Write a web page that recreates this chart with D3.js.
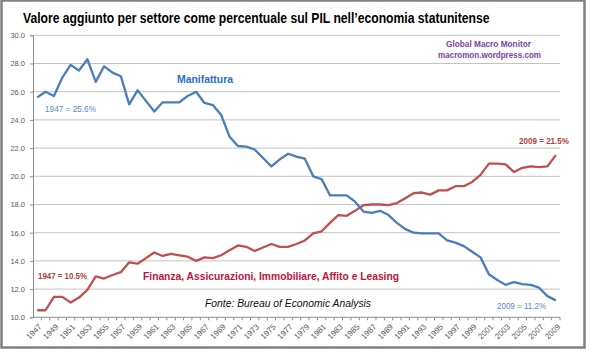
<!DOCTYPE html>
<html lang="it">
<head>
<meta charset="UTF-8">
<title>Valore aggiunto per settore</title>
<script src="https://d3js.org/d3.v7.min.js"></script>
<style>
    body { margin: 0; background: #fff; }
    svg { display: block; }
</style>
</head>
<body>
<script>
    // anni 1947-2009
    var years = [1947,1948,1949,1950,1951,1952,1953,1954,1955,1956,1957,1958,1959,1960,
        1961,1962,1963,1964,1965,1966,1967,1968,1969,1970,1971,1972,1973,1974,1975,1976,
        1977,1978,1979,1980,1981,1982,1983,1984,1985,1986,1987,1988,1989,1990,1991,1992,
        1993,1994,1995,1996,1997,1998,1999,2000,2001,2002,2003,2004,2005,2006,2007,2008,2009];

    var manifattura = [25.6,26.0,25.7,27.0,27.9,27.5,28.3,26.7,27.8,27.35,27.1,25.1,26.1,25.35,
        24.6,25.25,25.25,25.25,25.7,26.0,25.2,25.05,24.35,22.8,22.15,22.1,21.9,21.3,20.7,21.2,
        21.6,21.4,21.25,20.0,19.8,18.65,18.65,18.65,18.2,17.5,17.4,17.55,17.25,16.7,16.25,16.0,
        15.95,15.95,15.95,15.45,15.3,15.05,14.65,14.25,13.05,12.65,12.3,12.5,12.35,12.3,12.1,11.5,11.2];

    var finanza = [10.5,10.5,11.45,11.45,11.05,11.4,11.95,12.9,12.75,13.0,13.2,13.9,13.8,14.2,
        14.6,14.35,14.5,14.4,14.3,14.0,14.25,14.2,14.4,14.75,15.1,15.0,14.7,14.95,15.2,15.0,
        15.0,15.2,15.45,15.95,16.1,16.7,17.25,17.2,17.55,17.95,18.0,18.0,17.95,18.1,18.45,18.8,
        18.85,18.7,19.0,19.0,19.3,19.3,19.6,20.1,20.9,20.9,20.85,20.3,20.6,20.7,20.65,20.7,21.5];

    var yTicks = [10,12,14,16,18,20,22,24,26,28,30];
    var xLabels = years.filter(function (d, i) { return i % 2 === 0; });

    var width = 590, height = 353;
    var svg = d3.select("body").append("svg")
        .attr("width", width)
        .attr("height", height);

    // cornice
    svg.append("rect")
        .attr("x", 1.5).attr("y", 0.5)
        .attr("width", 583).attr("height", 347)
        .attr("fill", "#fff")
        .attr("stroke", "#808080")
        .attr("stroke-width", 2.5);

    var x = d3.scaleBand().domain(years).range([33, 560]).padding(0);
    var y = d3.scaleLinear().domain([10, 30]).range([317.3, 35.3]);
    var cx = function (d) { return x(d) + x.bandwidth() / 2; };

    // griglia
    svg.append("g").selectAll("line")
        .data(yTicks.slice(1))
        .enter().append("line")
        .attr("x1", 33).attr("x2", 560)
        .attr("y1", function (d) { return y(d); })
        .attr("y2", function (d) { return y(d); })
        .attr("stroke", "#c3c3c3")
        .attr("stroke-width", 1);

    // asse y
    var yAxis = d3.axisLeft(y).tickValues(yTicks).tickSize(3).tickFormat(d3.format(".1f"));
    var gy = svg.append("g").attr("transform", "translate(33,0)").call(yAxis);
    gy.select(".domain").attr("stroke", "#8c8c8c");
    gy.selectAll(".tick line").attr("stroke", "#8c8c8c");
    gy.selectAll("text")
        .attr("x", -8)
        .style("font-family", "'Liberation Sans', Arial, sans-serif")
        .style("font-size", "7.5px")
        .attr("fill", "#595959");

    // asse x
    var gx = svg.append("g").attr("transform", "translate(0," + y(10) + ")");
    gx.append("line")
        .attr("x1", 33).attr("x2", 560)
        .attr("stroke", "#8c8c8c");
    gx.selectAll(".tk")
        .data(years)
        .enter().append("line")
        .attr("class", "tk")
        .attr("x1", function (d) { return x(d) + x.bandwidth(); })
        .attr("x2", function (d) { return x(d) + x.bandwidth(); })
        .attr("y1", 0).attr("y2", 3)
        .attr("stroke", "#8c8c8c");
    gx.selectAll("text")
        .data(xLabels)
        .enter().append("text")
        .attr("transform", function (d) { return "translate(" + (cx(d) + 3) + ",8) rotate(-45)"; })
        .attr("text-anchor", "end")
        .attr("dy", "0.35em")
        .style("font-family", "'Liberation Sans', Arial, sans-serif")
        .style("font-size", "8px")
        .attr("fill", "#595959")
        .text(function (d) { return d; });

    // linee
    var line = function (vals) {
        return d3.line()
            .x(function (d) { return cx(d); })
            .y(function (d, i) { return y(vals[i]); })(years);
    };
    svg.append("path")
        .attr("d", line(finanza))
        .attr("fill", "none")
        .attr("stroke", "#c0504d")
        .attr("stroke-width", 2.3)
        .attr("stroke-linejoin", "round");
    svg.append("path")
        .attr("d", line(manifattura))
        .attr("fill", "none")
        .attr("stroke", "#4a7ebb")
        .attr("stroke-width", 2.3)
        .attr("stroke-linejoin", "round");

    // titolo: carattere stretto simulato con scala orizzontale
    var title = svg.append("text")
        .attr("x", 0).attr("y", 0)
        .style("font-family", "'Liberation Sans', Arial, sans-serif")
        .style("font-weight", "bold")
        .style("font-size", "15px")
        .text("Valore aggiunto per settore come percentuale sul PIL nell\u2019economia statunitense");
    var tw = title.node().getComputedTextLength();
    title.attr("transform", "translate(23,23) scale(" + (467 / tw) + ",1)");

    function label(t, xx, yy, size, color, weight, style, len) {
        var s = svg.append("text")
            .attr("x", xx).attr("y", yy)
            .style("font-family", "'Liberation Sans', Arial, sans-serif")
            .style("font-size", size + "px")
            .style("font-weight", weight)
            .style("font-style", style)
            .attr("fill", color)
            .text(t);
        if (len) s.attr("textLength", len).attr("lengthAdjust", "spacingAndGlyphs");
    }
    label("Manifattura", 177, 83, 11.5, "#1f6fc9", "bold", "normal", 56);
    label("1947 = 25.6%", 45, 112, 8.5, "#5b8ac0", "normal", "normal", 51);
    label("1947 = 10.5%", 38, 279, 8.5, "#b2403c", "bold", "normal", 49);
    label("Finanza, Assicurazioni, Immobiliare, Affito e Leasing", 143, 280, 11.5, "#c0143c", "bold", "normal", 256);
    label("Fonte: Bureau of Economic Analysis", 205, 307, 11, "#111", "normal", "italic", 166);
    label("Global Macro Monitor", 446, 47, 8.5, "#7a3fa8", "bold", "normal", 85);
    label("macromon.wordpress.com", 438, 58, 8.5, "#7a3fa8", "bold", "normal", 103);
    label("2009 = 21.5%", 519, 144, 8.5, "#b2403c", "bold", "normal", 50);
    label("2009 = 11.2%", 497, 309, 8.5, "#5b8ac0", "normal", "normal", 49);
</script>
</body>
</html>
